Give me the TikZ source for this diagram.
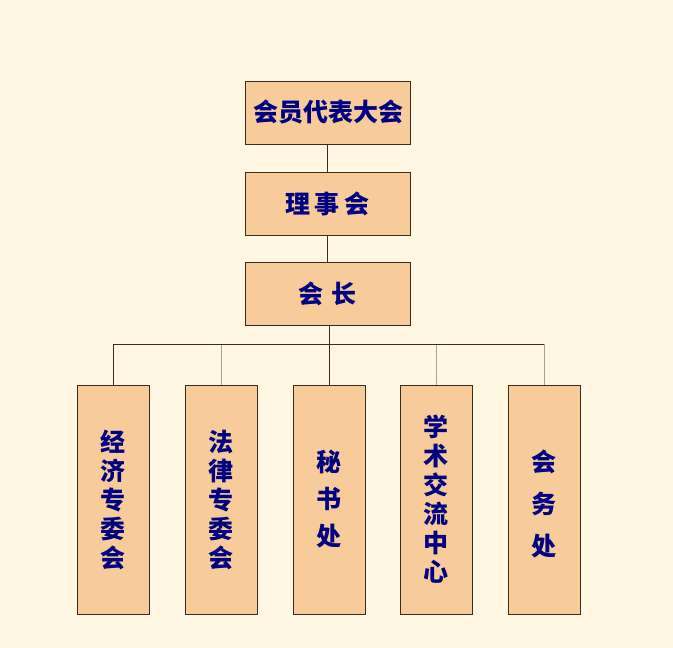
\documentclass[tikz,border=0pt]{standalone}
\usepackage{fontspec}
\newfontfamily\cjk{Noto Sans CJK SC}
\definecolor{bgc}{HTML}{FFF7E1}
\definecolor{boxc}{HTML}{F8CB9A}
\definecolor{edgec}{HTML}{3A2C22}
\definecolor{txtc}{HTML}{000080}
\definecolor{greyc}{HTML}{A8A29A}
\tikzset{
  hbox/.style={draw=edgec, fill=boxc, line width=1pt, minimum width=165pt, minimum height=63pt, inner sep=0pt,
    text=txtc, font=\cjk\bfseries\fontsize{25}{29}\selectfont},
  vbox/.style={draw=edgec, fill=boxc, line width=1pt, minimum width=72pt, minimum height=229pt, inner sep=0pt,
    text=txtc, align=center, font=\cjk\bfseries\fontsize{25}{29}\selectfont},
  vtext/.style={inner sep=0pt, text=txtc, align=center, font=\cjk\bfseries\fontsize{25}{42}\selectfont},
  darkline/.style={draw=edgec, line width=1pt},
  greyline/.style={draw=greyc, line width=1pt}
}
\begin{document}
\begin{tikzpicture}[x=1pt,y=-1pt]
\fill[bgc] (0,0) rectangle (673,648);
\useasboundingbox (0,0) rectangle (673,648);
\node[hbox] (a) at (327.5,112.5) {\hspace{2pt}会员代表大会};
\node[hbox] (b) at (327.5,203.5) {理\,事\,会};
\node[hbox] (c) at (327.5,294) {会\,\,长};
\node[vbox] (d1) at (113,499.5) {经\\济\\专\\委\\会};
\node[vbox] (d2) at (221,499.5) {法\\律\\专\\委\\会};
\node[vbox, font=\cjk\bfseries\fontsize{25}{37}\selectfont] (d3) at (329,499.5) {秘\\书\\处};
\node[vbox] (d4) at (436,499.5) {学\\术\\交\\流\\中\\心};
\node[vbox] (d5) at (544,499.5) {};
\node[vtext] (t5) at ([yshift=-4pt]d5.center) {会\\务\\处};
\coordinate (j) at (329,344);
\draw[darkline] (a.south) -- (b.north);
\draw[darkline] (b.south) -- (c.north);
\draw[darkline] (c.south -| d3.north) -- (d3.north);
\draw[greyline] (d2.north) -- (d2.north |- j);
\draw[greyline] (d4.north) -- (d4.north |- j);
\draw[greyline] (d5.north) -- (d5.north |- j);
\draw[darkline] (d1.north) -- (d1.north |- j) -- (d5.north |- j);
\end{tikzpicture}
\end{document}
